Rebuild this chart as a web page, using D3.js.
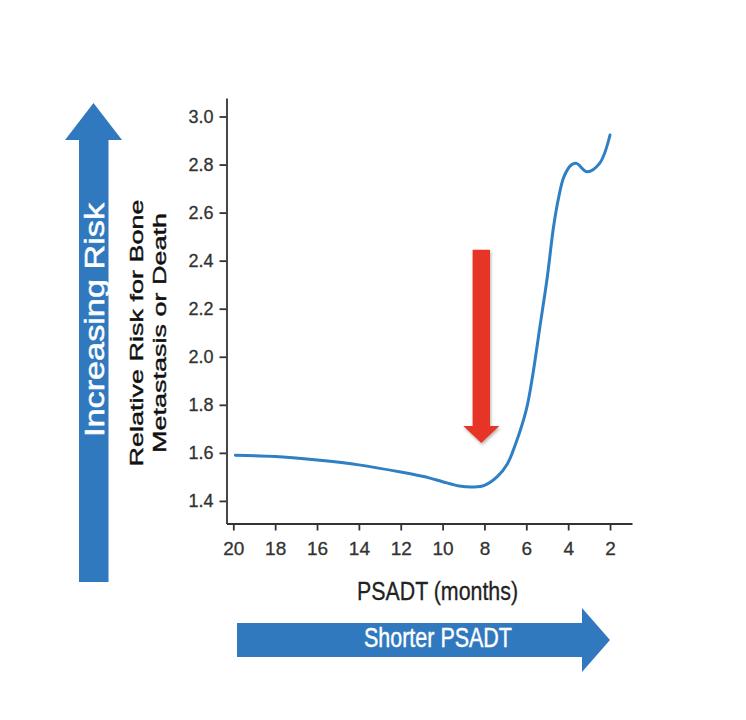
<!DOCTYPE html>
<html>
<head>
<meta charset="utf-8">
<script src="https://cdn.jsdelivr.net/npm/d3@7"></script>
<style>
  html, body { margin: 0; padding: 0; background: #ffffff; }
  svg { display: block; }
</style>
</head>
<body>
<svg id="chart"></svg>
<script>
// PSADT (months) vs relative risk.
const psadt = [19.9, 18, 16, 14, 12, 10.6, 10, 9.2, 8.5, 8.0, 7.4, 6.9, 6.5, 6.0, 5.7, 5.35, 5.0, 4.7, 4.45, 4.2, 3.85, 3.6, 3.1, 2.5, 2.0];
const risk = [1.59, 1.585, 1.57, 1.55, 1.52, 1.495, 1.48, 1.462, 1.458, 1.465, 1.50, 1.555, 1.64, 1.78, 1.92, 2.125, 2.33, 2.54, 2.665, 2.75, 2.798, 2.805, 2.77, 2.805, 2.923];

const xTicks = [20, 18, 16, 14, 12, 10, 8, 6, 4, 2];
const yTicks = [1.4, 1.6, 1.8, 2.0, 2.2, 2.4, 2.6, 2.8, 3.0];

// red callout arrow, in data units
const calloutAt = 8.15;
const calloutFrom = 2.445;
const calloutTo = 1.641;

const WIDTH = 746;
const HEIGHT = 720;
const FONT = "'Liberation Sans', Arial, Helvetica, sans-serif";
const INK = '#333333';
const BLUE = '#3179bf';
const LINE_BLUE = '#2f7fc4';
const RED = '#e63427';

const svg = d3.select('#chart')
  .attr('width', WIDTH)
  .attr('height', HEIGHT)
  .attr('viewBox', `0 0 ${WIDTH} ${HEIGHT}`);

svg.append('rect')
  .attr('width', WIDTH)
  .attr('height', HEIGHT)
  .attr('fill', '#ffffff');

const defs = svg.append('defs');
defs.append('filter')
  .attr('id', 'shadow')
  .attr('x', '-50%').attr('y', '-20%')
  .attr('width', '200%').attr('height', '140%')
  .append('feDropShadow')
  .attr('dx', 1).attr('dy', 2)
  .attr('stdDeviation', 1.5)
  .attr('flood-color', '#000')
  .attr('flood-opacity', 0.3);

const x = d3.scaleLinear().domain([20.325, 0.95]).range([226.5, 632]);
const y = d3.scaleLinear().domain([1.306, 3.077]).range([523.5, 98]);

// y axis
const yAxis = svg.append('g')
  .attr('transform', `translate(${x(20.325)},0)`)
  .call(d3.axisLeft(y)
    .tickValues(yTicks)
    .tickFormat(d3.format('.1f'))
    .tickSize(7)
    .tickSizeOuter(0)
    .tickPadding(6));

// x axis
const xAxis = svg.append('g')
  .attr('transform', `translate(0,${y(1.306)})`)
  .call(d3.axisBottom(x)
    .tickValues(xTicks)
    .tickFormat(d3.format('d'))
    .tickSize(7)
    .tickSizeOuter(0)
    .tickPadding(11));

[yAxis, xAxis].forEach((g) => {
  g.select('.domain').attr('stroke', INK).attr('stroke-width', 1.8);
  g.selectAll('.tick line').attr('stroke', INK).attr('stroke-width', 1.8);
  g.selectAll('.tick text')
    .attr('fill', INK)
    .attr('font-family', FONT)
    .attr('stroke', INK)
    .attr('stroke-width', 0.3);
});
yAxis.selectAll('.tick text').attr('font-size', 18);
xAxis.selectAll('.tick text').attr('font-size', 19);

// curve
const points = psadt.map((p, i) => [p, risk[i]]);
svg.append('path')
  .datum(points)
  .attr('fill', 'none')
  .attr('stroke', LINE_BLUE)
  .attr('stroke-width', 3)
  .attr('stroke-linecap', 'round')
  .attr('d', d3.line()
    .x((d) => x(d[0]))
    .y((d) => y(d[1]))
    .curve(d3.curveCatmullRom.alpha(0.5)));

// red callout arrow
const rx = x(calloutAt);
const rTop = y(calloutFrom);
const rTip = y(calloutTo);
const rHead = 17;
svg.append('path')
  .attr('filter', 'url(#shadow)')
  .attr('fill', RED)
  .attr('d', `M${rx - 8.7},${rTop} L${rx + 8.7},${rTop} L${rx + 8.7},${rTip - rHead}
    L${rx + 18},${rTip - rHead} L${rx},${rTip} L${rx - 18},${rTip - rHead}
    L${rx - 8.7},${rTip - rHead} Z`);

// vertical blue arrow
svg.append('path')
  .attr('fill', BLUE)
  .attr('d', 'M79,582 L79,140 L65,140 L93.5,103 L122,140 L108.5,140 L108.5,582 Z');

svg.append('text')
  .attr('transform', 'translate(104,320) rotate(-90)')
  .attr('text-anchor', 'middle')
  .attr('fill', '#ffffff')
  .attr('stroke', '#ffffff')
  .attr('stroke-width', 0.5)
  .attr('font-family', FONT)
  .attr('font-size', 27)
  .attr('textLength', 234)
  .attr('lengthAdjust', 'spacingAndGlyphs')
  .text('Increasing Risk');

// y axis title (two lines)
[['Relative Risk for Bone', 143, 267], ['Metastasis or Death', 165.5, 240]].forEach(([label, bx, len]) => {
  svg.append('text')
    .attr('transform', `translate(${bx},333) rotate(-90)`)
    .attr('text-anchor', 'middle')
    .attr('fill', '#111111')
    .attr('stroke', '#111111')
    .attr('stroke-width', 0.4)
    .attr('font-family', FONT)
    .attr('font-size', 19)
    .attr('textLength', len)
    .attr('lengthAdjust', 'spacingAndGlyphs')
    .text(label);
});

// x axis title
svg.append('text')
  .attr('x', 437.5)
  .attr('y', 600)
  .attr('text-anchor', 'middle')
  .attr('fill', '#222222')
  .attr('stroke', '#222222')
  .attr('stroke-width', 0.3)
  .attr('font-family', FONT)
  .attr('font-size', 25.5)
  .attr('textLength', 161)
  .attr('lengthAdjust', 'spacingAndGlyphs')
  .text('PSADT (months)');

// horizontal blue arrow
svg.append('path')
  .attr('fill', BLUE)
  .attr('d', 'M237,623 L582,623 L582,608 L610,640 L582,672 L582,657 L237,657 Z');

svg.append('text')
  .attr('x', 438)
  .attr('y', 647)
  .attr('text-anchor', 'middle')
  .attr('fill', '#ffffff')
  .attr('stroke', '#ffffff')
  .attr('stroke-width', 0.4)
  .attr('font-family', FONT)
  .attr('font-size', 27.5)
  .attr('textLength', 148)
  .attr('lengthAdjust', 'spacingAndGlyphs')
  .text('Shorter PSADT');
</script>
</body>
</html>
